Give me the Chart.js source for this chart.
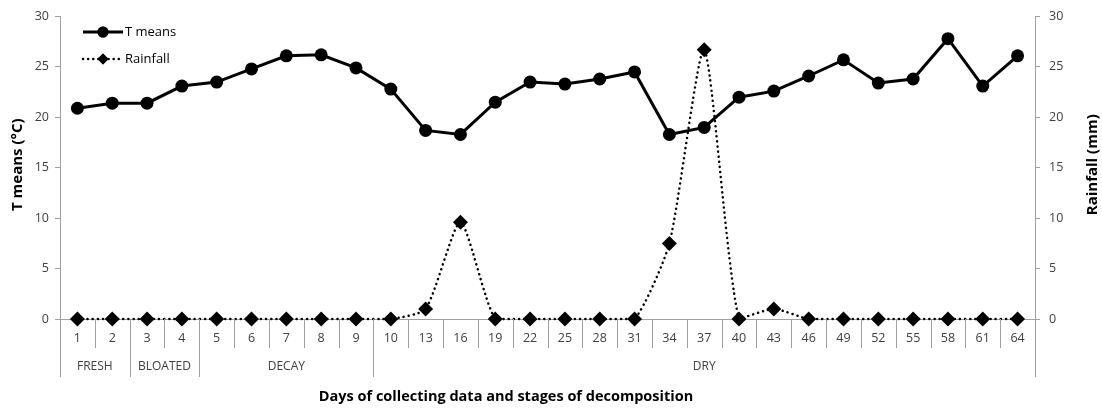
<!DOCTYPE html>
<html>
<head>
<meta charset="utf-8">
<script src="https://cdn.jsdelivr.net/npm/chart.js@4/dist/chart.umd.min.js"></script>
<style>
  html, body { margin: 0; padding: 0; background: #ffffff; }
  #wrap { width: 1102px; height: 410px; position: relative; }
</style>
</head>
<body>
<div id="wrap"><canvas id="c"></canvas></div>
<script>
// Sampling days (x categories)
const days = ['1','2','3','4','5','6','7','8','9','10','13','16','19','22','25','28','31','34','37','40','43','46','49','52','55','58','61','64'];
// Decomposition stages and how many sampling days each one covers
const stages = ['FRESH', 'BLOATED', 'DECAY', 'DRY'];
const stageSpans = [2, 2, 5, 19];
// Mean temperature (°C)
const tMeans = [20.9, 21.4, 21.4, 23.1, 23.5, 24.8, 26.1, 26.2, 24.9, 22.8, 18.7, 18.3, 21.5, 23.5, 23.3, 23.8, 24.5, 18.3, 19.0, 22.0, 22.6, 24.1, 25.7, 23.4, 23.8, 27.8, 23.1, 26.1];
// Daily rainfall (mm)
const rainfall = [0, 0, 0, 0, 0, 0, 0, 0, 0, 0, 1.0, 9.6, 0, 0, 0, 0, 0, 7.5, 26.7, 0, 1.0, 0, 0, 0, 0, 0, 0, 0];
// Axis range shared by both value axes
const yMin = 0, yMax = 30, yStep = 5;

const FONT = "'Open Sans', 'Liberation Sans', sans-serif";
const AXIS_GRAY = '#a0a0a0';
const TEXT_GRAY = '#404040';

// Draws the two-level category axis, axis titles and the line-style legend
const decorations = {
  id: 'decorations',
  afterDraw(chart) {
    const ctx = chart.ctx;
    const area = chart.chartArea;
    const n = days.length;
    const w = (area.right - area.left) / n;
    const base = area.bottom;

    ctx.save();
    ctx.strokeStyle = AXIS_GRAY;
    ctx.lineWidth = 1;

    // boundaries of each stage group (category indices)
    const groupEdges = [0];
    stageSpans.forEach(s => groupEdges.push(groupEdges[groupEdges.length - 1] + s));

    for (let i = 0; i <= n; i++) {
      const x = Math.round(area.left + i * w) + 0.5;
      const long = groupEdges.includes(i);
      ctx.beginPath();
      ctx.moveTo(x, base);
      ctx.lineTo(x, base + (long ? 58 : 29));
      ctx.stroke();
    }

    // stage labels
    ctx.fillStyle = TEXT_GRAY;
    ctx.font = `12px ${FONT}`;
    ctx.textAlign = 'center';
    ctx.textBaseline = 'middle';
    stages.forEach((name, k) => {
      const mid = area.left + ((groupEdges[k] + groupEdges[k + 1]) / 2) * w;
      ctx.fillText(name, mid, base + 48);
    });

    // axis titles
    ctx.fillStyle = '#000000';
    ctx.font = `bold 14.5px ${FONT}`;
    ctx.fillText('Days of collecting data and stages of decomposition', 506, 397);

    const midY = (area.top + area.bottom) / 2;
    ctx.font = `bold 15px ${FONT}`;
    ctx.save();
    ctx.translate(18, midY - 3);
    ctx.rotate(-Math.PI / 2);
    ctx.fillText('T means (°C)', 0, 0);
    ctx.restore();

    ctx.save();
    ctx.translate(1093, midY - 3);
    ctx.rotate(-Math.PI / 2);
    ctx.fillText('Rainfall (mm)', 0, 0);
    ctx.restore();

    // legend: line sample with the marker in the middle
    const ds = chart.data.datasets;
    const lx0 = area.left + 23, lx1 = area.left + 63, lmid = (lx0 + lx1) / 2;
    const rows = [32, 59];
    ds.forEach((d, k) => {
      const y = rows[k];
      ctx.save();
      ctx.strokeStyle = d.borderColor;
      ctx.lineWidth = d.borderWidth;
      ctx.lineCap = d.borderCapStyle || 'butt';
      ctx.setLineDash(d.borderDash || []);
      ctx.beginPath();
      ctx.moveTo(lx0, y);
      ctx.lineTo(lx1, y);
      ctx.stroke();
      ctx.restore();
      Chart.helpers.drawPoint(ctx, {
        pointStyle: d.pointStyle,
        radius: k === 0 ? 5.5 : 5.5,
        borderWidth: 0,
        rotation: 0
      }, lmid, y);
      ctx.fillStyle = d.pointBackgroundColor;
      ctx.fill();
      ctx.fillStyle = '#000000';
      ctx.font = `13px ${FONT}`;
      ctx.textAlign = 'left';
      ctx.textBaseline = 'middle';
      ctx.fillText(d.label, lx1 + 2, y);
    });

    ctx.restore();
  }
};

const valueAxis = (position, width) => ({
  type: 'linear',
  position,
  min: yMin,
  max: yMax,
  ticks: {
    stepSize: yStep,
    color: TEXT_GRAY,
    font: { family: FONT, size: 12.5 },
    padding: position === 'left' ? 6 : 9
  },
  grid: { drawOnChartArea: false, drawTicks: true, tickLength: 5, color: AXIS_GRAY },
  border: { display: true, color: AXIS_GRAY },
  afterFit(scale) { scale.width = width; }
});

new Chart(document.getElementById('c'), {
  type: 'line',
  data: {
    labels: days,
    datasets: [
      {
        label: 'T means',
        data: tMeans,
        yAxisID: 'y',
        borderColor: '#000000',
        borderWidth: 3,
        pointStyle: 'circle',
        pointRadius: 6.5,
        pointBackgroundColor: '#000000',
        pointBorderWidth: 0,
        tension: 0,
        clip: false
      },
      {
        label: 'Rainfall',
        data: rainfall,
        yAxisID: 'y1',
        borderColor: '#000000',
        borderWidth: 2.5,
        borderDash: [0.1, 5],
        borderCapStyle: 'round',
        pointStyle: 'rectRot',
        pointRadius: 7.5,
        pointBackgroundColor: '#000000',
        pointBorderWidth: 0,
        tension: 0.2,
        clip: false
      }
    ]
  },
  options: {
    responsive: true,
    maintainAspectRatio: false,
    animation: false,
    devicePixelRatio: 1,
    layout: { padding: { top: 16, left: 0, right: 0, bottom: 0 } },
    plugins: { legend: { display: false }, tooltip: { enabled: false } },
    scales: {
      x: {
        type: 'category',
        offset: true,
        ticks: {
          color: TEXT_GRAY,
          font: { family: FONT, size: 12.5 },
          padding: 12,
          maxRotation: 0,
          autoSkip: false
        },
        grid: { display: false, drawTicks: false },
        border: { display: true, color: AXIS_GRAY },
        afterFit(scale) { scale.height = 91; }
      },
      y: valueAxis('left', 60),
      y1: valueAxis('right', 67)
    }
  },
  plugins: [decorations]
});
</script>
</body>
</html>
